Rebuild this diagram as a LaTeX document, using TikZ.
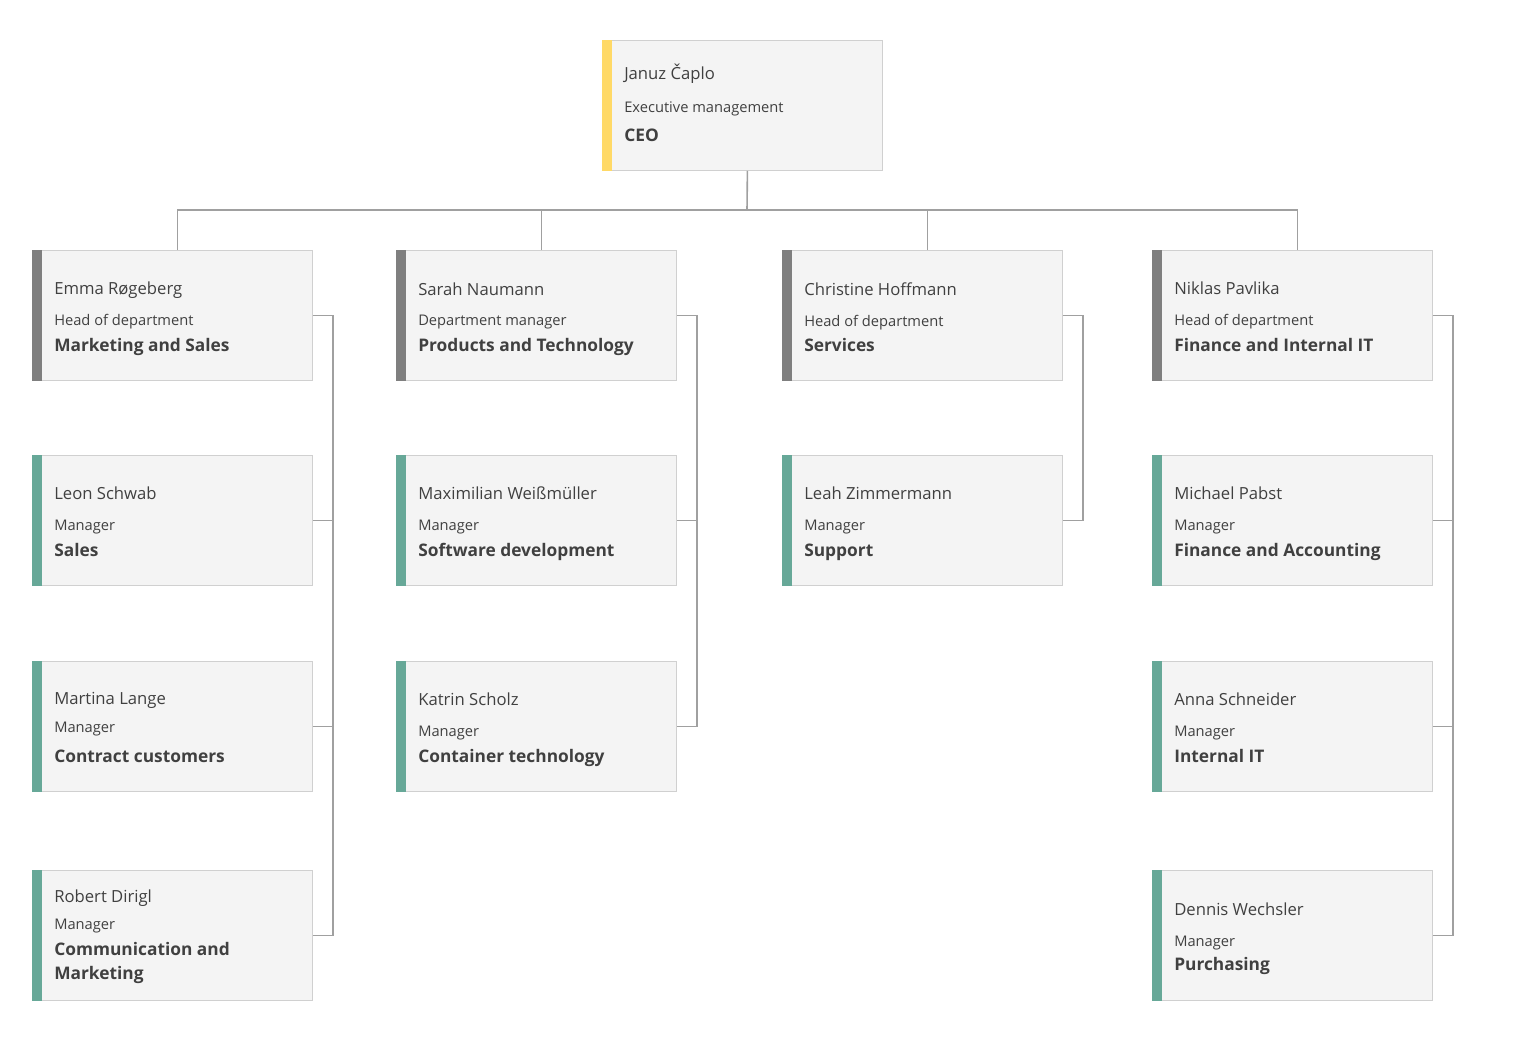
\documentclass[tikz,border=0pt]{standalone}
\usepackage{fontspec}
\setmainfont{Open Sans}
\definecolor{boxfill}{HTML}{F4F4F4}
\definecolor{boxline}{HTML}{D0D0D0}
\definecolor{headbar}{HTML}{7F7F7F}
\definecolor{mgrbar}{HTML}{67A898}
\definecolor{ceobar}{HTML}{FFD966}
\definecolor{txt}{HTML}{404040}
\definecolor{conn}{HTML}{A0A0A0}
\tikzset{
  card/.style={draw=boxline,fill=boxfill,minimum width=210pt,minimum height=97.5pt,inner sep=0pt,anchor=north west,line width=0.6pt},
  nm/.style={anchor=base west,inner sep=0pt,text=txt,font=\fontsize{12.5}{14}\selectfont},
  rl/.style={anchor=base west,inner sep=0pt,text=txt,font=\fontsize{11}{12}\selectfont},
  tt/.style={anchor=base west,inner sep=0pt,text=txt,font=\fontsize{13}{17.5}\selectfont\bfseries,align=left},
  link/.style={draw=conn,line width=1.2pt}
}
\newcommand\orgcard[9]{%
  \node[card] (#1) at (#2,#3) {};
  \fill[#4] (#1.north west) rectangle ([xshift=7.5pt]#1.south west);
  \node[nm] (#1n) at (#2+22,#3+#6) {#5};
  \node[rl] (#1r) at (#2+22,#3+#8) {#7};
  \node[tt] (#1t) at (#2+22,#3+101) {#9};
}
\begin{document}
\begin{tikzpicture}[x=0.75pt,y=-0.75pt]
\useasboundingbox[fill=white] (0,0) rectangle (1530,1040);
\orgcard{ceo}{602}{40}{ceobar}{Januz Čaplo}{39}{Executive management}{72}{CEO}
% column 1
\orgcard{a1}{32}{250}{headbar}{Emma Røgeberg}{44}{Head of department}{75}{Marketing and Sales}
\orgcard{a2}{32}{455}{mgrbar}{Leon Schwab}{44}{Manager}{75}{Sales}
\orgcard{a3}{32}{661}{mgrbar}{Martina Lange}{43}{Manager}{71}{Contract customers}
\node[card] (a4) at (32,870) {};
\fill[mgrbar] (a4.north west) rectangle ([xshift=7.5pt]a4.south west);
\node[nm] (a4n) at (54,902) {Robert Dirigl};
\node[rl] (a4r) at (54,929) {Manager};
\node[tt] (a4t) at (54,979) {Communication and\\Marketing};
% column 2
\orgcard{b1}{396}{250}{headbar}{Sarah Naumann}{45}{Department manager}{75}{Products and Technology}
\orgcard{b2}{396}{455}{mgrbar}{Maximilian Weißmüller}{44}{Manager}{75}{Software development}
\orgcard{b3}{396}{661}{mgrbar}{Katrin Scholz}{44}{Manager}{75}{Container technology}
% column 3
\orgcard{c1}{782}{250}{headbar}{Christine Hoffmann}{45}{Head of department}{76}{Services}
\orgcard{c2}{782}{455}{mgrbar}{Leah Zimmermann}{44}{Manager}{75}{Support}
% column 4
\orgcard{d1}{1152}{250}{headbar}{Niklas Pavlika}{44}{Head of department}{75}{Finance and Internal IT}
\orgcard{d2}{1152}{455}{mgrbar}{Michael Pabst}{44}{Manager}{75}{Finance and Accounting}
\orgcard{d3}{1152}{661}{mgrbar}{Anna Schneider}{44}{Manager}{75}{Internal IT}
\node[card] (d4) at (1152,870) {};
\fill[mgrbar] (d4.north west) rectangle ([xshift=7.5pt]d4.south west);
\node[nm] (d4n) at (1174,915) {Dennis Wechsler};
\node[rl] (d4r) at (1174,946) {Manager};
\node[tt] (d4t) at (1174,970) {Purchasing};
% connectors
\coordinate (bus) at (747,210);
\draw[link] ([xshift=3.75pt]ceo.south) -- (bus);
\draw[link] ([xshift=3.75pt]a1.north) |- (bus);
\draw[link] ([xshift=3.75pt]d1.north) |- (bus);
\draw[link] ([xshift=3.75pt]b1.north) -- ([xshift=3.75pt]b1.north |- bus);
\draw[link] ([xshift=3.75pt]c1.north) -- ([xshift=3.75pt]c1.north |- bus);
\draw[link] (a1.east) -- ++(20,0) |- (a4.east);
\draw[link] (a2.east) -- ++(20,0);
\draw[link] (a3.east) -- ++(20,0);
\draw[link] (b1.east) -- ++(20,0) |- (b3.east);
\draw[link] (b2.east) -- ++(20,0);
\draw[link] (c1.east) -- ++(20,0) |- (c2.east);
\draw[link] (d1.east) -- ++(20,0) |- (d4.east);
\draw[link] (d2.east) -- ++(20,0);
\draw[link] (d3.east) -- ++(20,0);
\end{tikzpicture}
\end{document}
